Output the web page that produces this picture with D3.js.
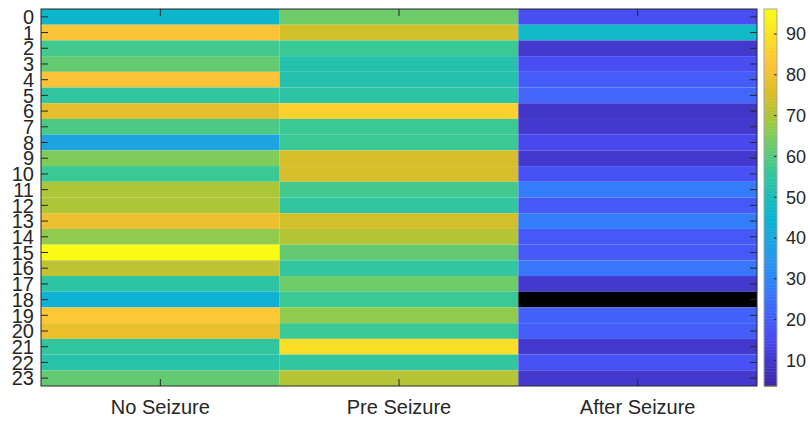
<!DOCTYPE html>
<html>
<head>
<meta charset="utf-8">
<script src="https://cdn.jsdelivr.net/npm/d3@7"></script>
<style>
  html, body { margin: 0; padding: 0; background: #fff; }
  svg { display: block; font-family: "Liberation Sans", Arial, sans-serif; }
  .axis text { fill: #262626; }
</style>
</head>
<body>
<svg id="chart" width="810" height="423"></svg>
<script>
// Channels (rows) and conditions (columns)
const channels = d3.range(24).map(String);
const conditions = ["No Seizure", "Pre Seizure", "After Seizure"];

// Per-channel values for each condition
const noSeizure    = [46, 82, 58, 62, 82, 55, 77, 59, 39, 65, 57, 70, 70, 79, 67, 96, 72, 54, 44, 84, 78, 55, 53, 62];
const preSeizure   = [63, 74, 57, 52, 52, 54, 86, 57, 57, 75, 75, 58, 55, 74, 71, 62, 55, 63, 57, 67, 57, 89, 55, 71];
const afterSeizure = [16, 47, 10, 16, 20, 22, 9, 10, 15, 10, 17, 28, 19, 28, 19, 19, 26, 10, 3.6, 21, 20, 10, 17, 10];

// Colorbar tick labels
const colorbarTicks = [10, 20, 30, 40, 50, 60, 70, 80, 90];

const series = [noSeizure, preSeizure, afterSeizure];
const cells = [];
series.forEach((vals, ci) => vals.forEach((v, ri) => cells.push({ col: conditions[ci], row: channels[ri], value: v })));

// Parula-style colormap anchors (position, r, g, b)
const parulaStops = [
  [0.000, 0.2422, 0.1504, 0.6603],
  [0.111, 0.2803, 0.2782, 0.9221],
  [0.143, 0.2810, 0.3228, 0.9579],
  [0.222, 0.2440, 0.4358, 0.9988],
  [0.286, 0.1786, 0.5289, 0.9682],
  [0.333, 0.1540, 0.5902, 0.9218],
  [0.429, 0.0689, 0.6948, 0.8394],
  [0.444, 0.0297, 0.7082, 0.8163],
  [0.556, 0.1938, 0.7758, 0.6251],
  [0.571, 0.2161, 0.7843, 0.5923],
  [0.667, 0.5044, 0.7993, 0.3480],
  [0.714, 0.6720, 0.7793, 0.2227],
  [0.778, 0.8634, 0.7406, 0.1596],
  [0.857, 0.9970, 0.7659, 0.2199],
  [0.889, 0.9892, 0.8136, 0.1885],
  [1.000, 0.9769, 0.9839, 0.0805]
];
const parula = d3.scaleLinear()
  .domain(parulaStops.map(s => s[0]))
  .range(parulaStops.map(s => d3.rgb(s[1] * 255, s[2] * 255, s[3] * 255)))
  .interpolate(d3.interpolateRgb)
  .clamp(true);

// 256-entry map whose first entry is black
const NC = 256;
const colormap = d3.range(NC).map(i => i === 0 ? "#000000" : parula((i - 1) / (NC - 2)).toString());

const allValues = cells.map(d => d.value);
const cmin = d3.min(allValues), cmax = d3.max(allValues);
const colorIndex = d3.scaleQuantize().domain([cmin, cmax]).range(d3.range(NC));
const colorOf = v => colormap[colorIndex(v)];

const svg = d3.select("#chart");
const M = { left: 41, right: 757, top: 9, bottom: 386 };
const axisColor = "#262626";

const x = d3.scaleBand().domain(conditions).range([M.left, M.right]);
const y = d3.scaleBand().domain(channels).range([M.top, M.bottom]);

// Heatmap cells
svg.append("g").selectAll("rect").data(cells).join("rect")
  .attr("x", d => x(d.col))
  .attr("y", d => y(d.row))
  .attr("width", x.bandwidth())
  .attr("height", y.bandwidth())
  .attr("fill", d => colorOf(d.value));

// Axes (ticks pointing inward on all four sides)
const styleAxis = g => {
  g.select(".domain").remove();
  g.selectAll(".tick line").attr("stroke", axisColor).attr("stroke-width", 1);
};

svg.append("g").attr("class", "axis")
  .attr("transform", `translate(${M.left},0)`)
  .call(d3.axisLeft(y).tickSize(-7).tickPadding(7))
  .call(styleAxis)
  .call(g => g.selectAll("text").attr("font-size", 20).attr("dy", "0.36em"));

svg.append("g")
  .attr("transform", `translate(${M.right},0)`)
  .call(d3.axisRight(y).tickSize(-7).tickFormat(""))
  .call(styleAxis);

svg.append("g").attr("class", "axis")
  .attr("transform", `translate(0,${M.bottom})`)
  .call(d3.axisBottom(x).tickSize(-7).tickPadding(14))
  .call(styleAxis)
  .call(g => g.selectAll("text").attr("font-size", 20));

svg.append("g")
  .attr("transform", `translate(0,${M.top})`)
  .call(d3.axisTop(x).tickSize(-7).tickFormat(""))
  .call(styleAxis);

// Axes box
svg.append("rect")
  .attr("x", M.left).attr("y", M.top)
  .attr("width", M.right - M.left).attr("height", M.bottom - M.top)
  .attr("fill", "none").attr("stroke", axisColor).attr("stroke-width", 1);

// Colorbar
const cb = { x: 764, w: 13 };
const cy = d3.scaleLinear().domain([cmin, cmax]).range([M.bottom, M.top]);
const step = (cmax - cmin) / NC;
svg.append("g").selectAll("rect").data(d3.range(NC)).join("rect")
  .attr("x", cb.x)
  .attr("y", i => cy(cmin + (i + 1) * step))
  .attr("width", cb.w)
  .attr("height", i => cy(cmin + i * step) - cy(cmin + (i + 1) * step) + 0.5)
  .attr("fill", i => colormap[i]);

svg.append("g").attr("class", "axis")
  .attr("transform", `translate(${cb.x + cb.w},0)`)
  .call(d3.axisRight(cy).tickValues(colorbarTicks).tickSize(-3).tickPadding(9))
  .call(styleAxis)
  .call(g => g.selectAll("text").attr("font-size", 18).attr("dy", "0.36em"));

svg.append("rect")
  .attr("x", cb.x).attr("y", M.top)
  .attr("width", cb.w).attr("height", M.bottom - M.top)
  .attr("fill", "none").attr("stroke", "#a6a6a6").attr("stroke-width", 1);
</script>
</body>
</html>
